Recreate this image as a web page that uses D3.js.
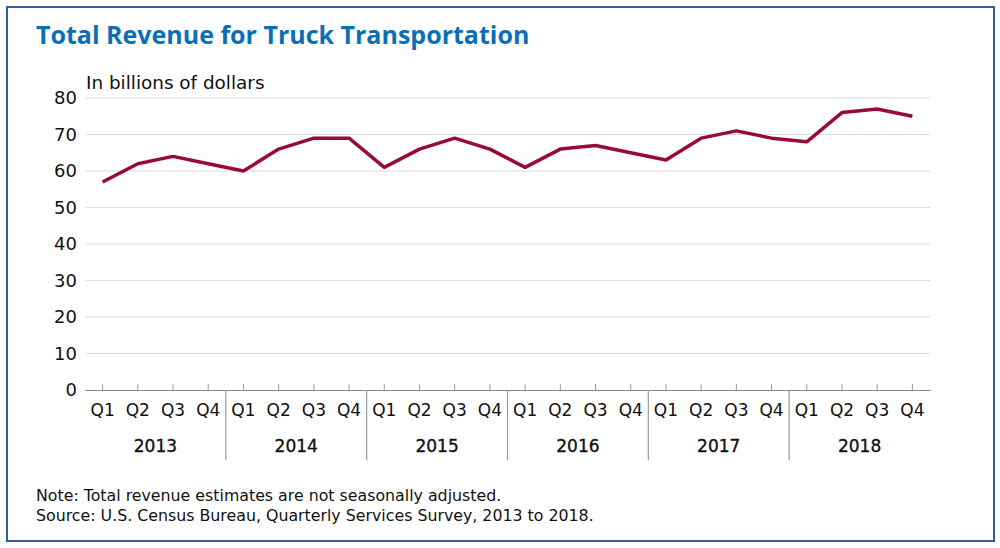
<!DOCTYPE html>
<html><head><meta charset="utf-8">
<script src="https://cdn.jsdelivr.net/npm/d3@7"></script>
<style>
html,body{margin:0;padding:0;background:#fff;}
svg{display:block;font-family:"DejaVu Sans","Open Sans",sans-serif;}
</style></head>
<body><svg id="c" width="1000" height="548"></svg>
<script>
const years = ["2013","2014","2015","2016","2017","2018"];
const quarters = ["Q1","Q2","Q3","Q4"];
const revenue = [57,62,64,62, 60,66,69,69, 61,66,69,66, 61,66,67,65, 63,69,71,69, 68,76,77,75];
const yTicks = [0,10,20,30,40,50,60,70,80];

const svg = d3.select("#c");
svg.append("rect").attr("x",7).attr("y",7).attr("width",987).attr("height",534)
  .attr("fill","#fff").attr("stroke","#2f5f9c").attr("stroke-width",2);

svg.append("text").attr("x",36).attr("y",44).attr("fill","#0b6fb8")
  .attr("font-family","'Open Sans',sans-serif")
  .attr("font-size",25).attr("font-weight",700).text("Total Revenue for Truck Transportation");

const keys = [];
years.forEach(y => quarters.forEach(q => keys.push(y+"-"+q)));
const x = d3.scaleBand().domain(keys).range([85,930]).padding(0);
const y = d3.scaleLinear().domain([0,80]).range([390,98]);

// gridlines
svg.append("g").selectAll("line").data(yTicks.filter(d=>d>0)).join("line")
  .attr("x1",85).attr("x2",930).attr("y1",d=>y(d)).attr("y2",d=>y(d))
  .attr("stroke","#dcdcdc").attr("stroke-width",1.2);

// y labels
const yAxis = svg.append("g").attr("transform","translate(85,0)")
  .call(d3.axisLeft(y).tickValues(yTicks).tickSize(0).tickPadding(8));
yAxis.select(".domain").remove();
yAxis.selectAll("text").attr("font-size",18).attr("fill","#111")
  .attr("font-family","'DejaVu Sans',sans-serif");

svg.append("text").attr("x",86).attr("y",89).attr("font-size",18.4).attr("fill","#111")
  .text("In billions of dollars");

// x axis
const xAxis = svg.append("g").attr("transform","translate(0,390)")
  .call(d3.axisTop(x).tickSize(6).tickSizeOuter(0).tickFormat(""));
xAxis.select(".domain").attr("stroke","#888").attr("stroke-width",1.2);
xAxis.selectAll(".tick line").attr("stroke","#999");

svg.append("g").selectAll("text").data(keys).join("text")
  .attr("x",d=>x(d)+x.bandwidth()/2).attr("y",416).attr("text-anchor","middle")
  .attr("font-size",17).attr("fill","#111").text(d=>d.split("-")[1]);

// year separators and labels
svg.append("g").selectAll("line").data(years.slice(1)).join("line")
  .attr("x1",d=>x(d+"-Q1")).attr("x2",d=>x(d+"-Q1")).attr("y1",390).attr("y2",460)
  .attr("stroke","#999").attr("stroke-width",1.2);
svg.append("g").selectAll("text").data(years).join("text")
  .attr("x",d=>(x(d+"-Q1")+x(d+"-Q4")+x.bandwidth())/2).attr("y",452)
  .attr("text-anchor","middle").attr("font-size",17)
  .attr("stroke","#111").attr("stroke-width",0.35)
  .attr("fill","#111").text(d=>d);

// line
const line = d3.line().x((d,i)=>x(keys[i])+x.bandwidth()/2).y(d=>y(d));
svg.append("path").datum(revenue).attr("d",line).attr("fill","none")
  .attr("stroke","#990a3c").attr("stroke-width",3.5).attr("stroke-linejoin","round");

svg.append("text").attr("x",36).attr("y",501).attr("font-size",15.8).attr("fill","#111")
  .text("Note: Total revenue estimates are not seasonally adjusted.");
svg.append("text").attr("x",36).attr("y",521).attr("font-size",15.8).attr("fill","#111")
  .text("Source: U.S. Census Bureau, Quarterly Services Survey, 2013 to 2018.");
</script></body></html>
